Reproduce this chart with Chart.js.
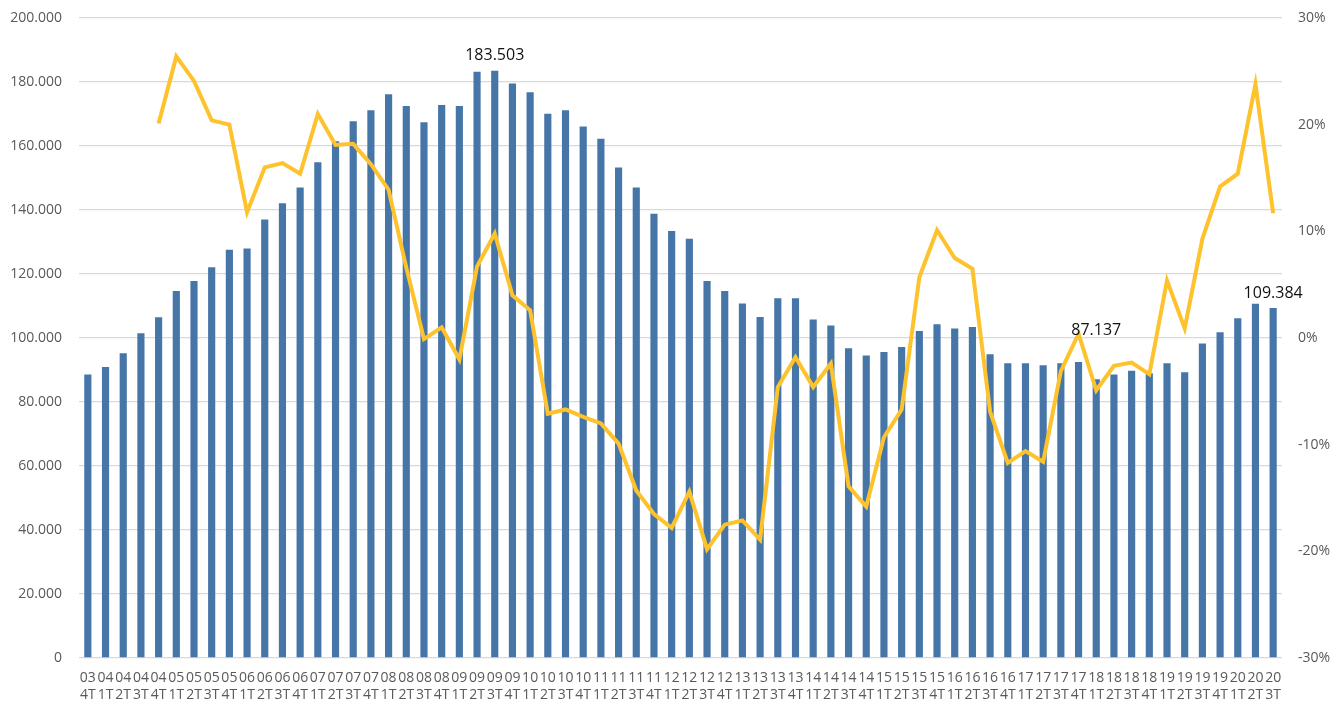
<!DOCTYPE html>
<html>
<head>
<meta charset="utf-8">
<script src="https://cdn.jsdelivr.net/npm/chart.js@4/dist/chart.umd.min.js"></script>
<style>
  html, body { margin: 0; padding: 0; background: #fff; }
  #wrap { width: 1337px; height: 703px; }
</style>
</head>
<body>
<div id="wrap"><canvas id="chart"></canvas></div>
<script>
// quarters, "yy nT"
const quarters = [
  "03 4T",
  "04 1T", "04 2T", "04 3T", "04 4T",
  "05 1T", "05 2T", "05 3T", "05 4T",
  "06 1T", "06 2T", "06 3T", "06 4T",
  "07 1T", "07 2T", "07 3T", "07 4T",
  "08 1T", "08 2T", "08 3T", "08 4T",
  "09 1T", "09 2T", "09 3T", "09 4T",
  "10 1T", "10 2T", "10 3T", "10 4T",
  "11 1T", "11 2T", "11 3T", "11 4T",
  "12 1T", "12 2T", "12 3T", "12 4T",
  "13 1T", "13 2T", "13 3T", "13 4T",
  "14 1T", "14 2T", "14 3T", "14 4T",
  "15 1T", "15 2T", "15 3T", "15 4T",
  "16 1T", "16 2T", "16 3T", "16 4T",
  "17 1T", "17 2T", "17 3T", "17 4T",
  "18 1T", "18 2T", "18 3T", "18 4T",
  "19 1T", "19 2T", "19 3T", "19 4T",
  "20 1T", "20 2T", "20 3T"
];

// quarterly volume (left axis)
const volume = [
  88600,
  90900, 95200, 101500, 106500,
  114700, 117800, 122100, 127600,
  128000, 137000, 142100, 147000,
  154900, 161500, 167700, 171200,
  176200, 172500, 167400, 172800,
  172500, 183200, 183503, 179500,
  176800, 170100, 171200, 166100,
  162300, 153300, 147000, 138800,
  133400, 131000, 117800, 114700,
  110800, 106600, 112400, 112400,
  105800, 103900, 96800, 94500,
  95600, 97200, 102200, 104300,
  103000, 103400, 94900, 92100,
  92100, 91500, 92100, 92500,
  87137, 88600, 89800, 89000,
  92100, 89300, 98300, 101800,
  106200, 110700, 109384
];

// year-on-year change in % (right axis)
const yoyChange = [
  null,
  null, null, null, 20.1,
  26.4, 24.1, 20.4, 20.0,
  11.8, 16.0, 16.4, 15.4,
  21.0, 18.1, 18.2, 16.3,
  13.9, 6.6, -0.1, 1.0,
  -2.0, 6.7, 9.8, 4.0,
  2.6, -7.1, -6.7, -7.4,
  -8.0, -9.9, -14.3, -16.5,
  -17.8, -14.4, -19.8, -17.5,
  -17.1, -18.9, -4.6, -1.8,
  -4.6, -2.4, -13.9, -15.8,
  -9.3, -6.7, 5.7, 10.1,
  7.5, 6.5, -6.9, -11.7,
  -10.6, -11.6, -3.1, 0.4,
  -4.9, -2.6, -2.3, -3.4,
  5.4, 0.9, 9.3, 14.2,
  15.4, 23.8, 11.7
];

// bars that carry a value label
const labelledQuarters = ["09 3T", "18 1T", "20 3T"];

const TICK_COLOR = "#595959";
const GRID_COLOR = "#D9D9D9";
const BAR_COLOR = "#4676A8";
const LINE_COLOR = "#FDC22C";

const fmtThousands = v => String(Math.round(v)).replace(/\B(?=(\d{3})+(?!\d))/g, ".");

// value labels above chosen bars
const labelLift = { "09 3T": 15, "18 1T": 49, "20 3T": 15 };
const barLabels = {
  id: "barLabels",
  afterDatasetsDraw(chart) {
    const meta = chart.getDatasetMeta(1);
    const ctx = chart.ctx;
    ctx.save();
    ctx.font = "16px 'Open Sans'";
    ctx.fillStyle = "#111";
    ctx.textAlign = "center";
    ctx.textBaseline = "middle";
    labelledQuarters.forEach(q => {
      const i = quarters.indexOf(q);
      const el = meta.data[i];
      ctx.fillText(fmtThousands(volume[i]), el.x, el.y - labelLift[q]);
    });
    ctx.restore();
  }
};

// tick marks are invisible, they only push the labels away from the plot
new Chart(document.getElementById("chart"), {
  data: {
    labels: quarters.map(q => q.split(" ")),
    datasets: [
      {
        type: "line",
        data: yoyChange,
        yAxisID: "yPct",
        borderColor: LINE_COLOR,
        borderWidth: 4,
        pointRadius: 0,
        tension: 0,
        order: 0
      },
      {
        type: "bar",
        data: volume,
        yAxisID: "y",
        backgroundColor: BAR_COLOR,
        barPercentage: 0.45,
        categoryPercentage: 0.9,
        order: 1
      }
    ]
  },
  options: {
    responsive: true,
    maintainAspectRatio: false,
    animation: false,
    layout: { padding: { top: 18, left: 0, right: 0, bottom: 0 } },
    plugins: { legend: { display: false }, tooltip: { enabled: false } },
    scales: {
      x: {
        grid: { display: false, drawTicks: false },
        border: { display: false },
        ticks: {
          color: TICK_COLOR,
          font: { family: "'Open Sans'", size: 14, lineHeight: 1.2 },
          padding: 12,
          maxRotation: 0,
          autoSkip: false
        },
        afterFit(scale) { scale.height = 45; }
      },
      y: {
        position: "left",
        min: 0,
        max: 200000,
        grid: { color: GRID_COLOR, lineWidth: 1.3, drawTicks: true, tickLength: 17, tickColor: "rgba(0,0,0,0)" },
        border: { display: false },
        ticks: {
          stepSize: 20000,
          color: TICK_COLOR,
          font: { family: "'Open Sans'", size: 14 },
          padding: 0,
          callback: v => fmtThousands(v)
        },
        afterFit(scale) { scale.width = 79; }
      },
      yPct: {
        position: "right",
        min: -30,
        max: 30,
        grid: { drawOnChartArea: false, drawTicks: true, tickLength: 16, tickColor: "rgba(0,0,0,0)" },
        border: { display: false },
        ticks: {
          stepSize: 10,
          color: TICK_COLOR,
          font: { family: "'Open Sans'", size: 14 },
          padding: 0,
          callback: v => v + "%"
        },
        afterFit(scale) { scale.width = 55; }
      }
    }
  },
  plugins: [barLabels]
});
</script>
</body>
</html>
